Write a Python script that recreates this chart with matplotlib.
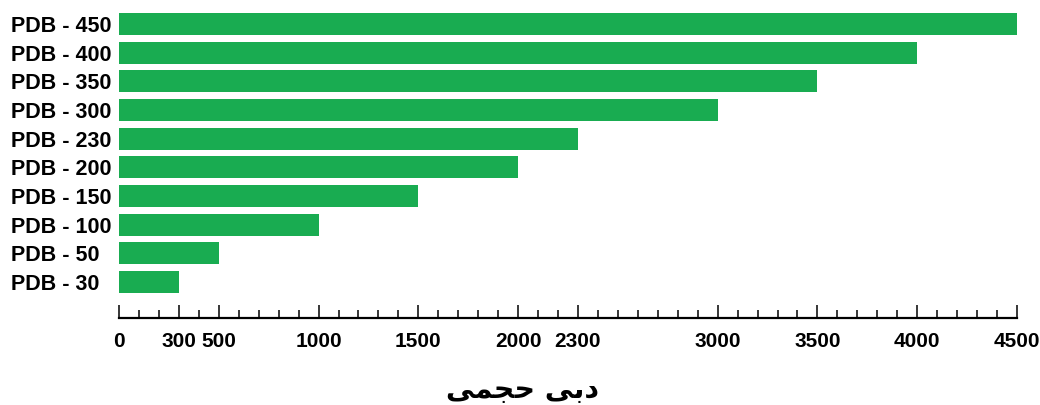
"""Horizontal bar chart: PDB pump models vs. volumetric flow (دبی حجمی)."""

import matplotlib

matplotlib.use("Agg")
import matplotlib.pyplot as plt
import numpy as np
from matplotlib.ticker import FixedLocator, MultipleLocator

# data (top bar first)
models = ["PDB - 450", "PDB - 400", "PDB - 350", "PDB - 300", "PDB - 230",
          "PDB - 200", "PDB - 150", "PDB - 100", "PDB - 50", "PDB - 30"]
flow = [4500, 4000, 3500, 3000, 2300, 2000, 1500, 1000, 500, 300]
tick_values = [0, 300, 500, 1000, 1500, 2000, 2300, 3000, 3500, 4000, 4500]

# Persian axis title, pre-shaped (presentation forms, visual order)
xlabel_fa = "\uFEF0\uFEE4\uFEA0\uFEA3 \uFEF0\uFE91\uFEA9"

GREEN = "#19ac51"
W, H = 1040, 405

fig = plt.figure(figsize=(W / 100, H / 100), dpi=100)
ax_bottom = (H - 318) / H
ax = fig.add_axes([119 / W, ax_bottom, (1017 - 119) / W, 1 - ax_bottom])

n = len(models)
y = np.arange(n)[::-1]
ax.barh(y, flow, height=0.77, color=GREEN, edgecolor="none")

unit = 28.7  # px per bar slot
ax.set_ylim(-36 / unit, (n - 1) + 24 / unit)
ax.set_xlim(0, 4500)

ax.set_yticks(y, models)
ax.tick_params(axis="y", length=0, pad=78)
for lbl in ax.get_yticklabels():
    lbl.set_horizontalalignment("left")
    lbl.set_fontfamily("Liberation Sans")
    lbl.set_fontweight("bold")
    lbl.set_fontsize(15.5)

ax.xaxis.set_major_locator(FixedLocator(tick_values))
ax.xaxis.set_minor_locator(MultipleLocator(100))
ax.set_xticklabels([str(v) for v in tick_values])
ax.tick_params(axis="x", which="major", direction="in", length=9.5, width=1.1,
               pad=10, color="black")
ax.tick_params(axis="x", which="minor", direction="in", length=6, width=1.1,
               color="black")
for lbl in ax.get_xticklabels():
    lbl.set_fontfamily("Liberation Sans")
    lbl.set_fontweight("bold")
    lbl.set_fontsize(15)

for side in ("top", "right", "left"):
    ax.spines[side].set_visible(False)
ax.spines["bottom"].set_linewidth(1.6)

fig.text(522 / W, (H - 390) / H, xlabel_fa, ha="center", va="center",
         fontsize=20.5, fontweight="bold", family=["DejaVu Sans"])

fig.savefig("out.png", dpi=100)
